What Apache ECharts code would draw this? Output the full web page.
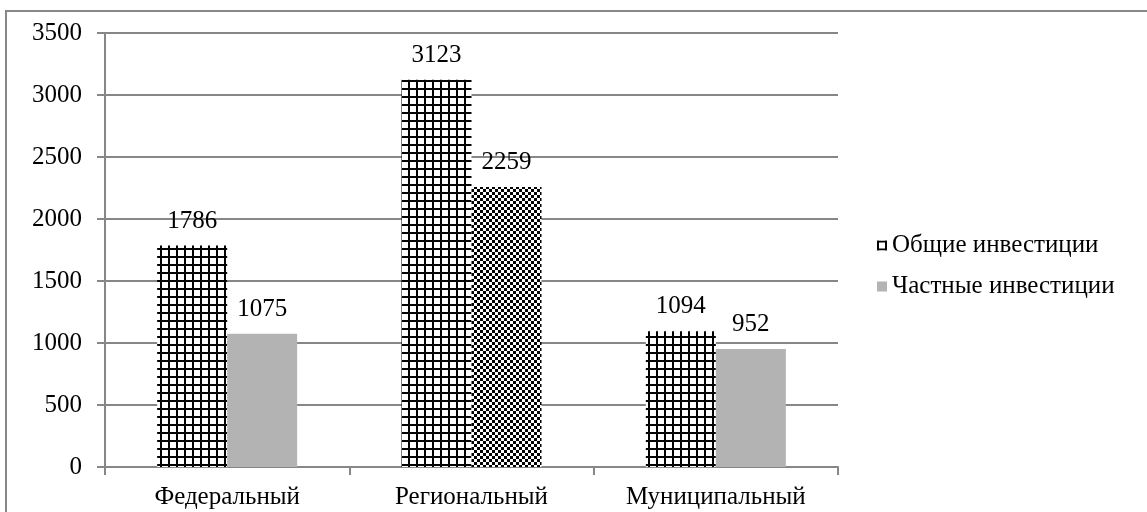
<!DOCTYPE html>
<html>
<head>
<meta charset="utf-8">
<script src="https://cdn.jsdelivr.net/npm/echarts@6/dist/echarts.min.js"></script>
<style>
  html, body { margin: 0; padding: 0; background: #fff; }
  #chart { width: 1147px; height: 512px; }
</style>
</head>
<body>
<div id="chart"></div>
<script>
// данные
const categories = ['Федеральный', 'Региональный', 'Муниципальный']
const totalInvest = [1786, 3123, 1094]
const privateInvest = [1075, 2259, 952]
const seriesNames = ['Общие инвестиции', 'Частные инвестиции']

const font = '"Liberation Serif", "DejaVu Serif", serif'
const fs = 25

// сетка (клетка) для общих инвестиций
function gridPattern() {
  const c = document.createElement('canvas')
  c.width = 8
  c.height = 8
  const ctx = c.getContext('2d')
  ctx.fillStyle = '#fff'
  ctx.fillRect(0, 0, 8, 8)
  ctx.fillStyle = '#000'
  ctx.fillRect(0, 0, 8, 2)
  ctx.fillRect(0, 0, 2, 8)
  return c
}

// шахматка
function checkerPattern() {
  const c = document.createElement('canvas')
  c.width = 6
  c.height = 6
  const ctx = c.getContext('2d')
  ctx.fillStyle = '#fff'
  ctx.fillRect(0, 0, 6, 6)
  ctx.fillStyle = '#000'
  ctx.fillRect(0, 0, 3, 3)
  ctx.fillRect(3, 3, 3, 3)
  return c
}

const gridFill = { image: gridPattern(), repeat: 'repeat' }
const checkerFill = { image: checkerPattern(), repeat: 'repeat' }
const gray = '#b3b3b3'

const chart = echarts.init(document.getElementById('chart'), null, { renderer: 'canvas' })

const labelStyle = {
  show: true,
  position: 'top',
  distance: 12,
  fontFamily: font,
  fontSize: fs,
  color: '#000',
}

const option = {
  animation: false,
  textStyle: { fontFamily: font },
  graphic: [
    {
      type: 'rect',
      shape: { x: 6, y: 11, width: 1200, height: 600 },
      style: { fill: 'none', stroke: '#878787', lineWidth: 2 },
      silent: true,
    },
  ],
  grid: {
    left: 105,
    right: 309,
    top: 33,
    bottom: 45,
    containLabel: false,
  },
  legend: {
    orient: 'vertical',
    left: 872,
    top: 228,
    itemGap: 16,
    itemWidth: 10,
    itemHeight: 10,
    textStyle: { fontFamily: font, fontSize: fs, color: '#000' },
    data: [
      { name: seriesNames[0], icon: 'rect', itemStyle: { color: gridFill } },
      { name: seriesNames[1], icon: 'rect', itemStyle: { color: gray } },
    ],
  },
  xAxis: {
    type: 'category',
    data: categories,
    axisLine: { lineStyle: { color: '#878787', width: 2 } },
    axisTick: { show: true, length: 8, lineStyle: { color: '#878787', width: 2 } },
    axisLabel: { fontFamily: font, fontSize: fs, color: '#000', margin: 18 },
  },
  yAxis: {
    type: 'value',
    min: 0,
    max: 3500,
    interval: 500,
    axisLine: { show: true, lineStyle: { color: '#878787', width: 2 } },
    axisTick: { show: true, length: 8, lineStyle: { color: '#878787', width: 2 } },
    splitLine: { lineStyle: { color: '#878787', width: 2 } },
    axisLabel: {
      fontFamily: font,
      fontSize: fs,
      color: '#000',
      margin: 23,
      formatter: (v) => String(v),
    },
  },
  series: [
    {
      name: seriesNames[0],
      type: 'bar',
      barWidth: 70,
      barGap: '0%',
      data: totalInvest,
      itemStyle: { color: gridFill },
      label: labelStyle,
    },
    {
      name: seriesNames[1],
      type: 'bar',
      barWidth: 70,
      barGap: '0%',
      data: privateInvest.map((v, i) =>
        i === 1 ? { value: v, itemStyle: { color: checkerFill } } : v
      ),
      itemStyle: { color: gray },
      label: labelStyle,
    },
  ],
}

chart.setOption(option, true)
</script>
</body>
</html>
